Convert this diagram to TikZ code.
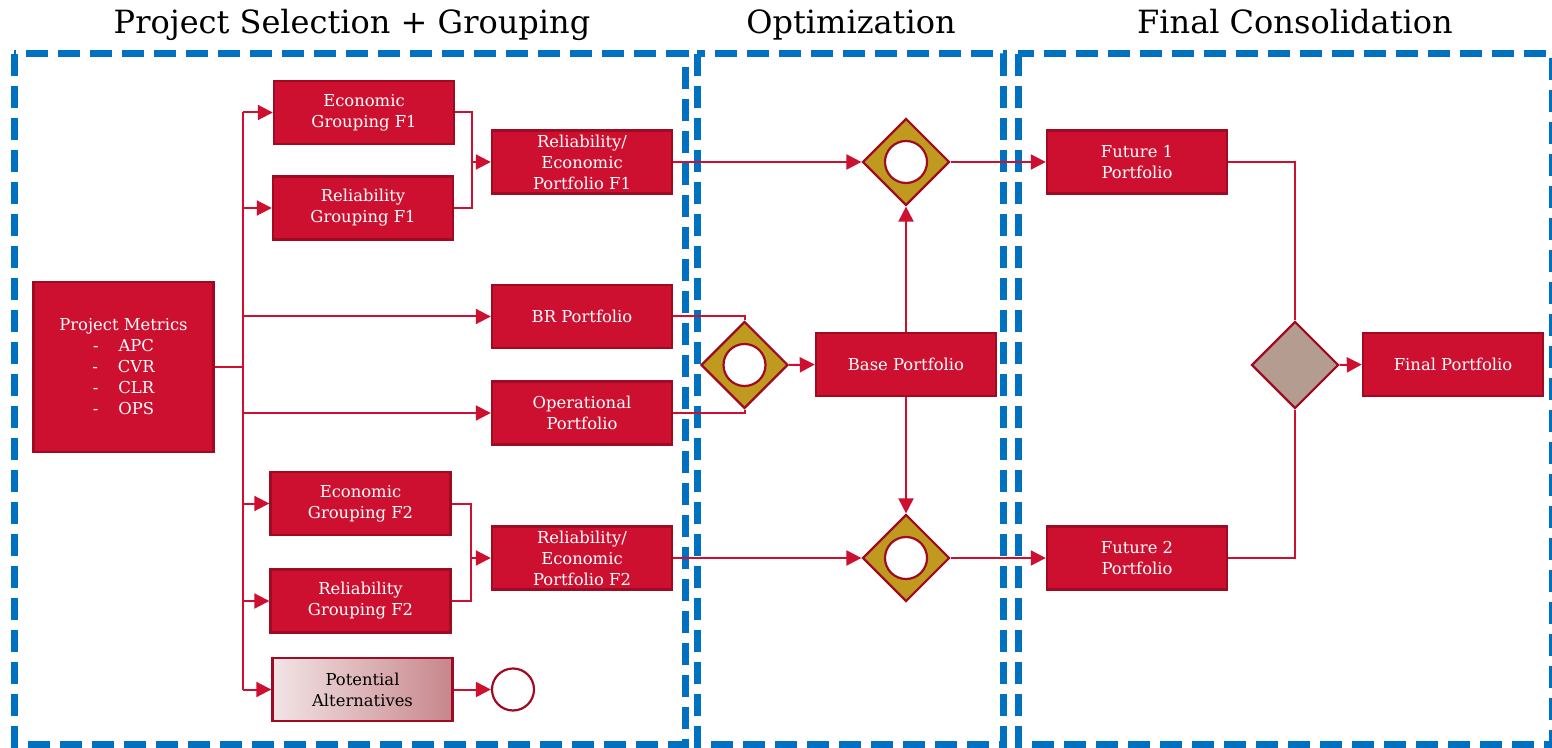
\documentclass[tikz,border=0pt]{standalone}
\usepackage{fontspec}
\setmainfont{DejaVu Serif}
\usetikzlibrary{arrows.meta}
\usetikzlibrary{shapes.geometric}

\definecolor{flowred}{HTML}{CE1030}
\definecolor{edgered}{HTML}{9E0B22}
\definecolor{laneblue}{HTML}{0070C0}
\definecolor{gategold}{HTML}{C09A1E}
\definecolor{gatetan}{HTML}{B59C90}
\definecolor{altlight}{HTML}{F2E4E5}
\definecolor{altdark}{HTML}{C7868B}

\tikzset{
 task/.style={draw=edgered, line width=1.2pt, fill=flowred, text=white, minimum width=90pt, minimum height=31.5pt, inner sep=0pt, align=center, font=\fontsize{8.2}{10.5}\selectfont},
 altbox/.style={task, text=black, left color=altlight, right color=altdark},
 gate/.style={diamond, aspect=1, draw=edgered, line width=1.1pt, fill=gategold, minimum width=43.5pt, minimum height=43.5pt, inner sep=0pt},
 ringgate/.style={gate, path picture={\draw[edgered, line width=1.1pt, fill=white] (path picture bounding box.center) circle (10.5pt);}},
 endring/.style={circle, draw=edgered, line width=1.1pt, fill=white, minimum size=21pt, inner sep=0pt},
 lane/.style={laneblue, line width=3.5pt, dash pattern=on 11pt off 5pt},
 flow/.style={flowred, line width=1pt},
 flowarrow/.style={flow, -{Triangle[length=7.5pt, width=7.5pt]}},
 lanetitle/.style={font=\fontsize{16}{19}\selectfont, anchor=base}
}

\begin{document}
\begin{tikzpicture}[x=0.5pt, y=-0.5pt]
\useasboundingbox (0,0) rectangle (1552,748);

\draw[lane] (14,54) rectangle (685,744);
\draw[lane] (697,54) rectangle (1003,744);
\draw[lane] (1018,54) rectangle (1552,744);
\node[lanetitle] (titleA) at (352,34) {Project Selection + Grouping};
\node[lanetitle] (titleB) at (851,34) {Optimization};
\node[lanetitle] (titleC) at (1295,34) {Final Consolidation};

\node[task, minimum height=85pt] (metrics) at (123.5,367) {Project Metrics\\-\hspace{10pt}APC\\-\hspace{10pt}CVR\\-\hspace{10pt}CLR\\-\hspace{10pt}OPS};
\node[task] (econA) at (364,112.5) {Economic\\Grouping F1};
\node[task] (relA) at (363,208) {Reliability\\Grouping F1};
\node[task] (portA) at (582,162) {Reliability/\\Economic\\Portfolio F1};
\node[task] (brport) at (582,316.5) {BR Portfolio};
\node[task] (opport) at (582,413) {Operational\\Portfolio};
\node[task] (econB) at (360.5,503.5) {Economic\\Grouping F2};
\node[task] (relB) at (360.5,601) {Reliability\\Grouping F2};
\node[task] (portB) at (582,558) {Reliability/\\Economic\\Portfolio F2};
\node[altbox] (altern) at (362.5,689.5) {Potential\\Alternatives};
\node[endring] (altend) at (513,689.5) {};

\node[ringgate] (merge) at (744.5,365) {};
\node[task] (base) at (906,364.5) {Base Portfolio};
\node[ringgate] (gateA) at (906,162) {};
\node[ringgate] (gateB) at (906,558) {};

\node[task] (futA) at (1137,162) {Future 1\\Portfolio};
\node[task] (futB) at (1137,558) {Future 2\\Portfolio};
\node[gate, fill=gatetan] (join) at (1295,365) {};
\node[task] (final) at (1453,364.5) {Final Portfolio};

\coordinate (fork) at (243,367);
\coordinate (mergeA) at (472,162);
\coordinate (mergeB) at (471,558);

\draw[flow] (metrics.east) -- (fork);
\draw[flow] (fork |- econA.west) -- (fork |- altern.west);
\foreach \n in {econA, relA, brport, opport, econB, relB, altern}
 \draw[flowarrow] (fork |- \n.west) -- (\n.west);
\draw[flow] (econA.east) -| (mergeA) |- (relA.east);
\draw[flowarrow] (mergeA) -- (portA.west);
\draw[flow] (econB.east) -| (mergeB) |- (relB.east);
\draw[flowarrow] (mergeB) -- (portB.west);
\draw[flowarrow] (altern.east) -- (altend.west);

\draw[flow] (brport.east) -| (merge.north);
\draw[flow] (opport.east) -| (merge.south);
\draw[flowarrow] (merge.east) -- (base.west);
\draw[flowarrow] (base.north) -- (gateA.south);
\draw[flowarrow] (base.south) -- (gateB.north);
\draw[flowarrow] (portA.east) -- (gateA.west);
\draw[flowarrow] (portB.east) -- (gateB.west);
\draw[flowarrow] (gateA.east) -- (futA.west);
\draw[flowarrow] (gateB.east) -- (futB.west);

\draw[flow] (futA.east) -| (join.north);
\draw[flow] (futB.east) -| (join.south);
\draw[flowarrow] (join.east) -- (final.west);
\end{tikzpicture}
\end{document}
